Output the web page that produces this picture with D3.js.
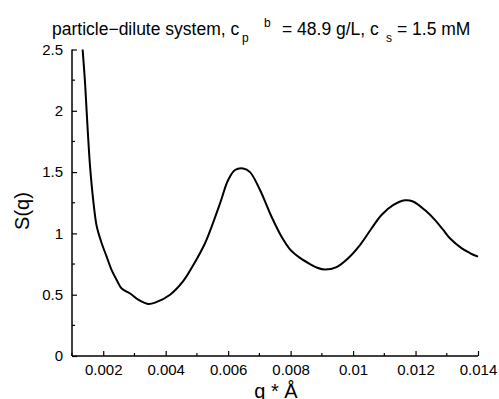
<!DOCTYPE html>
<html>
<head>
<meta charset="utf-8">
<script src="https://cdn.jsdelivr.net/npm/d3@7"></script>
<style>
  body { margin: 0; background: #fff; }
  text { font-family: "Liberation Sans", Arial, sans-serif; fill: #000; }
</style>
</head>
<body>
<div id="chart"></div>
<script>
// S(q) curve
var qVals = [0.00134, 0.00142, 0.00149, 0.00158, 0.00168, 0.00179, 0.00195, 0.00211, 0.00227, 0.00243,
  0.00259, 0.00286, 0.00312, 0.00344, 0.00366, 0.00414, 0.00456, 0.00488, 0.00526, 0.00542,
  0.00574, 0.00600, 0.00622, 0.00648, 0.00670, 0.00702, 0.00739, 0.00771, 0.00798, 0.00830,
  0.00862, 0.00885, 0.00910, 0.00947, 0.00984, 0.01022, 0.01059, 0.01091, 0.01128, 0.01166,
  0.01192, 0.01230, 0.01262, 0.01288, 0.01310, 0.01347, 0.01374, 0.01400];
var sVals = [2.50, 2.22, 1.90, 1.54, 1.27, 1.06, 0.92, 0.81, 0.70, 0.62,
  0.55, 0.51, 0.46, 0.425, 0.435, 0.50, 0.61, 0.74, 0.92, 1.02,
  1.245, 1.435, 1.517, 1.53, 1.50, 1.354, 1.136, 0.973, 0.87, 0.80,
  0.75, 0.72, 0.705, 0.725, 0.797, 0.905, 1.04, 1.15, 1.23, 1.27,
  1.26, 1.19, 1.11, 1.03, 0.96, 0.88, 0.84, 0.81];
var xTicks = [0.002, 0.004, 0.006, 0.008, 0.01, 0.012, 0.014];
var xMinor = [0.001, 0.003, 0.005, 0.007, 0.009, 0.011, 0.013];
var yTicks = [0, 0.5, 1, 1.5, 2, 2.5];
var yMinor = [0.25, 0.75, 1.25, 1.75, 2.25];

var width = 499, height = 399;
var plotLeft = 72, plotRight = 478, plotTop = 49.5, plotBottom = 356;

var svg = d3.select("#chart").append("svg")
  .attr("width", width)
  .attr("height", height);

var x = d3.scaleLinear().domain([0.001, 0.014]).range([plotLeft, plotRight]);
var y = d3.scaleLinear().domain([0, 2.5]).range([plotBottom, plotTop]);

// curve
var line = d3.line()
  .x(function(d, i) { return x(qVals[i]); })
  .y(function(d, i) { return y(sVals[i]); })
  .curve(d3.curveCatmullRom);

svg.append("path")
  .datum(qVals)
  .attr("d", line)
  .attr("fill", "none")
  .attr("stroke", "#000")
  .attr("stroke-width", 2);

// x axis, ticks point inward
var xAxis = svg.append("g")
  .attr("transform", "translate(0," + plotBottom + ")")
  .call(d3.axisBottom(x).tickValues(xTicks).tickSizeInner(-5).tickSizeOuter(0).tickPadding(8)
    .tickFormat(function(d) { return String(+d.toFixed(3)); }));
xAxis.attr("font-size", 15).attr("font-family", "Liberation Sans, Arial, sans-serif");
xAxis.select(".domain").attr("stroke-width", 1.5).attr("d", "M" + plotLeft + ",0H" + plotRight);
xAxis.selectAll(".tick line").attr("stroke-width", 1.2);
svg.append("g").selectAll("line")
  .data(xMinor).enter().append("line")
  .attr("x1", function(d) { return x(d); })
  .attr("x2", function(d) { return x(d); })
  .attr("y1", plotBottom).attr("y2", plotBottom - 3)
  .attr("stroke", "#000").attr("stroke-width", 1.2);

// y axis
var yAxis = svg.append("g")
  .attr("transform", "translate(" + plotLeft + ",0)")
  .call(d3.axisLeft(y).tickValues(yTicks).tickSizeInner(-5).tickSizeOuter(0).tickPadding(9)
    .tickFormat(function(d) { return String(d); }));
yAxis.attr("font-size", 15).attr("font-family", "Liberation Sans, Arial, sans-serif");
yAxis.select(".domain").attr("stroke-width", 1.5).attr("d", "M0," + plotTop + "V" + plotBottom);
yAxis.selectAll(".tick line").attr("stroke-width", 1.2);
svg.append("g").selectAll("line")
  .data(yMinor).enter().append("line")
  .attr("y1", function(d) { return y(d); })
  .attr("y2", function(d) { return y(d); })
  .attr("x1", plotLeft).attr("x2", plotLeft + 3)
  .attr("stroke", "#000").attr("stroke-width", 1.2);

// labels
svg.append("text")
  .attr("x", 276).attr("y", 398)
  .attr("text-anchor", "middle")
  .attr("font-size", 20)
  .text("q * Å");

svg.append("text")
  .attr("transform", "translate(29,211) rotate(-90)")
  .attr("text-anchor", "middle")
  .attr("font-size", 20)
  .text("S(q)");

// title with sub/superscripts
var title = svg.append("text")
  .attr("y", 35)
  .attr("font-size", 17.5);
title.append("tspan").attr("x", 52).text("particle\u2212dilute system, c");
title.append("tspan").attr("x", 242).attr("y", 42).attr("font-size", 12).text("p");
title.append("tspan").attr("x", 264).attr("y", 27).attr("font-size", 12).text("b");
title.append("tspan").attr("x", 282).attr("y", 35).text("= 48.9 g/L, c");
title.append("tspan").attr("x", 386).attr("y", 42).attr("font-size", 12).text("s");
title.append("tspan").attr("x", 397).attr("y", 35).text("= 1.5 mM");
</script>
</body>
</html>
